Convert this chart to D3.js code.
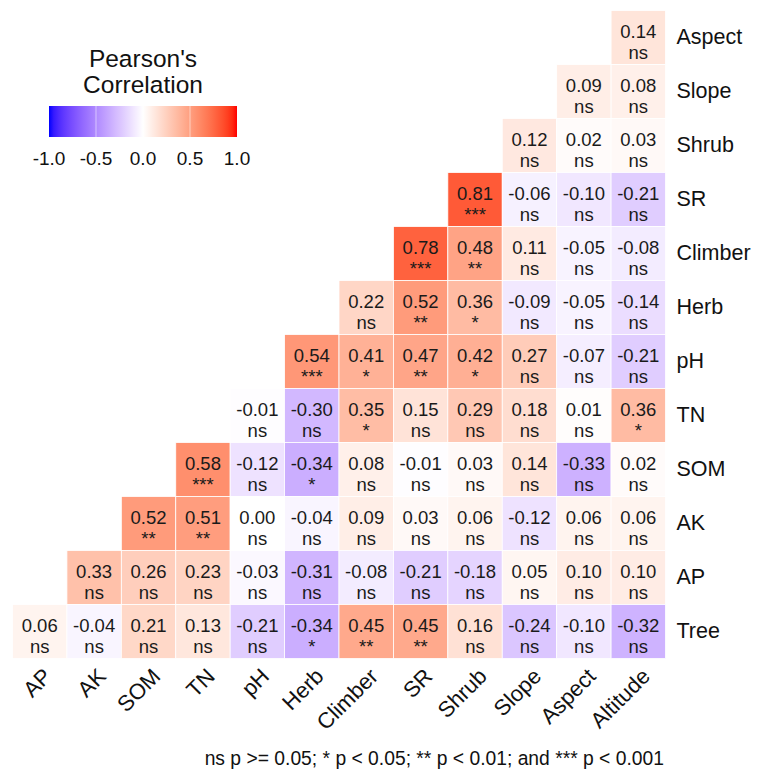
<!DOCTYPE html>
<html>
<head>
<meta charset="utf-8">
<script src="https://cdn.jsdelivr.net/npm/d3@7"></script>
<style>
  html, body { margin: 0; padding: 0; background: #fff; }
  svg { display: block; font-family: "Liberation Sans", Arial, Helvetica, sans-serif; }
</style>
</head>
<body>
<svg id="chart" width="757" height="772"></svg>
<script>
// ---- Data ----
const colVars = ["AP", "AK", "SOM", "TN", "pH", "Herb", "Climber", "SR", "Shrub", "Slope", "Aspect", "Altitude"];
const rowVars = ["Aspect", "Slope", "Shrub", "SR", "Climber", "Herb", "pH", "TN", "SOM", "AK", "AP", "Tree"];

// each row lists its values for the right-most columns (row i has i+1 cells)
const rValues = [
  [0.14],
  [0.09, 0.08],
  [0.12, 0.02, 0.03],
  [0.81, -0.06, -0.10, -0.21],
  [0.78, 0.48, 0.11, -0.05, -0.08],
  [0.22, 0.52, 0.36, -0.09, -0.05, -0.14],
  [0.54, 0.41, 0.47, 0.42, 0.27, -0.07, -0.21],
  [-0.01, -0.30, 0.35, 0.15, 0.29, 0.18, 0.01, 0.36],
  [0.58, -0.12, -0.34, 0.08, -0.01, 0.03, 0.14, -0.33, 0.02],
  [0.52, 0.51, 0.00, -0.04, 0.09, 0.03, 0.06, -0.12, 0.06, 0.06],
  [0.33, 0.26, 0.23, -0.03, -0.31, -0.08, -0.21, -0.18, 0.05, 0.10, 0.10],
  [0.06, -0.04, 0.21, 0.13, -0.21, -0.34, 0.45, 0.45, 0.16, -0.24, -0.10, -0.32]
];
const sigLabels = [
  ["ns"],
  ["ns", "ns"],
  ["ns", "ns", "ns"],
  ["***", "ns", "ns", "ns"],
  ["***", "**", "ns", "ns", "ns"],
  ["ns", "**", "*", "ns", "ns", "ns"],
  ["***", "*", "**", "*", "ns", "ns", "ns"],
  ["ns", "ns", "*", "ns", "ns", "ns", "ns", "*"],
  ["***", "ns", "*", "ns", "ns", "ns", "ns", "ns", "ns"],
  ["**", "**", "ns", "ns", "ns", "ns", "ns", "ns", "ns", "ns"],
  ["ns", "ns", "ns", "ns", "ns", "ns", "ns", "ns", "ns", "ns", "ns"],
  ["ns", "ns", "ns", "ns", "ns", "*", "**", "**", "ns", "ns", "ns", "ns"]
];
const legendTicks = [-1.0, -0.5, 0.0, 0.5, 1.0];
const legendTitle = ["Pearson's", "Correlation"];
const footnote = "ns p >= 0.05; * p < 0.05; ** p < 0.01; and *** p < 0.001";

// ---- Build cells ----
const cells = [];
rValues.forEach((row, i) => {
  const offset = colVars.length - row.length;
  row.forEach((v, k) => {
    cells.push({ row: rowVars[i], col: colVars[offset + k], r: v, sig: sigLabels[i][k] });
  });
});

const svg = d3.select("#chart");
svg.append("rect").attr("width", 757).attr("height", 772).attr("fill", "#fff");

const x = d3.scaleBand().domain(colVars).range([12.5, 665.5]).padding(0);
const y = d3.scaleBand().domain(rowVars).range([10.5, 658.5]).padding(0);
const color = d3.scaleLinear().domain([-1, 0, 1])
  .range(["#0000FF", "#FFFFFF", "#FF0000"]).interpolate(d3.interpolateLab);

const g = svg.append("g");
const cg = g.selectAll("g.cell").data(cells).join("g").attr("class", "cell");
cg.append("rect")
  .attr("x", d => x(d.col)).attr("y", d => y(d.row))
  .attr("width", x.bandwidth()).attr("height", y.bandwidth())
  .attr("fill", d => color(d.r))
  .attr("stroke", "#fff").attr("stroke-width", 0.8);
cg.append("text")
  .attr("x", d => x(d.col) + x.bandwidth() / 2)
  .attr("y", d => y(d.row) + 27.5)
  .attr("text-anchor", "middle")
  .attr("font-size", 18.5).attr("fill", "#1a1a1a")
  .text(d => d.r.toFixed(2));
cg.append("text")
  .attr("x", d => x(d.col) + x.bandwidth() / 2)
  .attr("y", d => y(d.row) + 48)
  .attr("text-anchor", "middle")
  .attr("font-size", 18.5).attr("fill", "#1a1a1a")
  .text(d => d.sig);

// ---- Axes ----
const yAxis = d3.axisRight(y).tickSize(0).tickPadding(11);
const ya = svg.append("g").attr("transform", "translate(665.5,0)").call(yAxis);
ya.select(".domain").remove();
ya.selectAll("text").attr("font-size", 21.5).attr("fill", "#111")
  .attr("font-family", "\"Liberation Sans\", Arial, sans-serif");

const xAxis = d3.axisBottom(x).tickSize(0).tickPadding(0);
const xa = svg.append("g").attr("transform", "translate(0,658.5)").call(xAxis);
xa.select(".domain").remove();
xa.selectAll("text")
  .attr("font-size", 22).attr("fill", "#111")
  .attr("font-family", "\"Liberation Sans\", Arial, sans-serif")
  .attr("text-anchor", "end")
  .attr("y", 0).attr("dy", "0.72em")
  .attr("transform", "translate(2,8) rotate(-45)");

// ---- Legend ----
const lx0 = 49, lx1 = 237, ly0 = 106, lh = 31;
const lscale = d3.scaleLinear().domain([-1, 1]).range([lx0, lx1]);
const defs = svg.append("defs");
const grad = defs.append("linearGradient").attr("id", "lg").attr("x1", "0%").attr("x2", "100%");
d3.range(0, 41).forEach(i => {
  const v = -1 + i / 20;
  grad.append("stop").attr("offset", (i / 40 * 100) + "%").attr("stop-color", color(v));
});
const leg = svg.append("g");
leg.append("rect").attr("x", lx0).attr("y", ly0).attr("width", lx1 - lx0).attr("height", lh)
  .attr("fill", "url(#lg)");
leg.selectAll("line.tk").data(legendTicks.slice(1, -1)).join("line")
  .attr("class", "tk")
  .attr("x1", d => lscale(d)).attr("x2", d => lscale(d))
  .attr("y1", ly0).attr("y2", ly0 + lh)
  .attr("stroke", "#fff").attr("stroke-opacity", 0.5).attr("stroke-width", 1);
leg.selectAll("text.tl").data(legendTicks).join("text")
  .attr("class", "tl")
  .attr("x", d => lscale(d)).attr("y", 165)
  .attr("text-anchor", "middle").attr("font-size", 19).attr("fill", "#111")
  .text(d => d3.format(".1f")(d).replace("−", "-"));
leg.selectAll("text.tt").data(legendTitle).join("text")
  .attr("class", "tt")
  .attr("x", (lx0 + lx1) / 2).attr("y", (d, i) => 66.5 + i * 26)
  .attr("text-anchor", "middle").attr("font-size", 24.5).attr("fill", "#111")
  .text(d => d);

// ---- Footnote ----
svg.append("text").attr("x", 664).attr("y", 765)
  .attr("text-anchor", "end").attr("font-size", 19.3).attr("fill", "#111")
  .text(footnote);
</script>
</body>
</html>
